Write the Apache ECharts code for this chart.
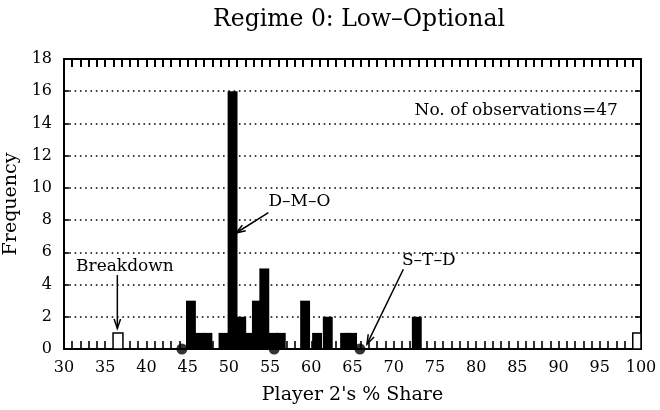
<!DOCTYPE html>
<html><head><meta charset="utf-8">
<script src="https://cdn.jsdelivr.net/npm/echarts@6/dist/echarts.min.js"></script>
<style>html,body{margin:0;padding:0;background:#fff}#c{width:660px;height:410px}</style>
</head><body><div id="c"></div>
<script>
// ---- data ----
// filled histogram bars: centre of each bar (Player 2's % share) and its frequency
const shareCentres = [45.4, 46.4, 47.4, 49.35, 50.45, 51.5, 52.4, 53.4, 54.3, 55.4, 56.3, 59.25, 60.7, 62.0, 64.1, 64.95, 72.8];
const frequencies  = [3,    1,    1,    1,     16,    2,    1,    3,    5,    1,    1,    3,     1,    2,    1,    1,     2];
// hollow (breakdown) bars
const breakdownCentres = [36.55, 99.6];
const breakdownFreqs   = [1, 1];
// black dots on the baseline
const dotShares = [44.3, 55.5, 65.9];
const xTickLabels = [30,35,40,45,50,55,60,65,70,75,80,85,90,95,100];
const yTickLabels = [0,2,4,6,8,10,12,14,16,18];

const BAR_HALF = 0.6;
const serif = '"DejaVu Serif", "Liberation Serif", serif';
const chart = echarts.init(document.getElementById('c'));

function makeBar(fill, stroke, lw) {
  return function (params, api) {
    const c = api.value(0), f = api.value(1);
    const p1 = api.coord([c - BAR_HALF, f]);
    const p2 = api.coord([c + BAR_HALF, 0]);
    const cs = params.coordSys;
    const r = echarts.graphic.clipRectByRect(
      {x: p1[0], y: p1[1], width: p2[0] - p1[0], height: p2[1] - p1[1]},
      {x: cs.x, y: cs.y, width: cs.width, height: cs.height});
    if (!r) return;
    return {type: 'rect', shape: r, style: {fill: fill, stroke: stroke, lineWidth: lw}};
  };
}
const filledData = shareCentres.map((s, i) => [s, frequencies[i]]);
const hollowData = breakdownCentres.map((s, i) => [s, breakdownFreqs[i]]);
const dotData = dotShares.map(s => [s, 0]);
const axisLineStyle = {color: '#000', width: 2};

chart.setOption({
  animation: false,
  backgroundColor: '#fff',
  title: {
    text: 'Regime 0: Low\u2013Optional', left: 354, top: 3, textAlign: 'center',
    textStyle: {fontFamily: serif, fontSize: 23.5, fontWeight: 'normal', color: '#000'}
  },
  grid: {left: 64, right: 19, top: 59, bottom: 61, show: false, containLabel: false, outerBoundsMode: 'none'},
  xAxis: [{
    type: 'value', min: 30, max: 100, interval: 1, position: 'bottom',
    axisLine: {show: true, onZero: false, lineStyle: axisLineStyle},
    axisTick: {show: true, inside: true, length: 8, lineStyle: {color: '#000', width: 1.6}},
    axisLabel: {fontFamily: serif, fontSize: 16, color: '#000', margin: 11, hideOverlap: false,
      formatter: v => xTickLabels.includes(v) ? String(v) : ''},
    splitLine: {show: false},
    name: "Player 2's % Share", nameLocation: 'middle', nameGap: 37,
    nameTextStyle: {fontFamily: serif, fontSize: 19, color: '#000'}
  }, {
    type: 'value', min: 30, max: 100, interval: 1, position: 'top',
    axisLine: {show: true, onZero: false, lineStyle: axisLineStyle},
    axisTick: {show: true, inside: true, length: 8, lineStyle: {color: '#000', width: 2}},
    axisLabel: {show: false}, splitLine: {show: false}
  }],
  yAxis: [{
    type: 'value', min: 0, max: 18, interval: 2, position: 'left',
    axisLine: {show: true, onZero: false, lineStyle: axisLineStyle},
    axisTick: {show: true, inside: true, length: 5, lineStyle: {color: '#000', width: 1.6}},
    axisLabel: {fontFamily: serif, fontSize: 16, color: '#000', margin: 12,
      formatter: v => yTickLabels.includes(v) ? String(v) : ''},
    splitLine: {show: true, lineStyle: {color: '#000', width: 1.6, type: [1.6, 3.7]}},
    name: 'Frequency', nameLocation: 'middle', nameGap: 35, nameRotate: 90,
    nameTextStyle: {fontFamily: serif, fontSize: 19, color: '#000'}
  }, {
    type: 'value', min: 0, max: 18, interval: 2, position: 'right',
    axisLine: {show: true, onZero: false, lineStyle: axisLineStyle},
    axisTick: {show: true, inside: true, length: 6, lineStyle: {color: '#000', width: 1.6}},
    axisLabel: {show: false}, splitLine: {show: false}
  }],
  series: [{
    type: 'custom', name: 'frequency', renderItem: makeBar('#000', null, 0),
    data: filledData, encode: {x: 0, y: 1}, z: 3
  }, {
    type: 'custom', name: 'breakdown', renderItem: makeBar('#fff', '#000', 1.5),
    data: hollowData, encode: {x: 0, y: 1}, z: 3
  }, {
    type: 'scatter', name: 'dots', data: dotData, symbolSize: 11, clip: false,
    itemStyle: {color: '#000'}, z: 5
  }]
});

// ---- annotations (positioned in data coordinates) ----
function px(p) { return chart.convertToPixel({xAxisIndex: 0, yAxisIndex: 0}, p); }
const font = '17px ' + serif;
const g = [];
function addArrow(tailD, tipD) {
  const a = px(tailD), b = px(tipD);
  g.push({type: 'line', shape: {x1: a[0], y1: a[1], x2: b[0], y2: b[1]}, style: {stroke: '#000', lineWidth: 1.5}, z: 10});
  const ang = Math.atan2(a[1] - b[1], a[0] - b[0]);
  const L = 10, h = 0.33;
  const p1 = [b[0] + L * Math.cos(ang + h), b[1] + L * Math.sin(ang + h)];
  const p2 = [b[0] + L * Math.cos(ang - h), b[1] + L * Math.sin(ang - h)];
  g.push({type: 'polyline', shape: {points: [p1, b, p2]}, style: {stroke: '#000', lineWidth: 1.5, fill: null}, z: 10});
}
function addText(txt, d, align) {
  const p = px(d);
  g.push({type: 'text', x: p[0], y: p[1], style: {text: txt, font: font, fill: '#000', textAlign: align || 'left', textVerticalAlign: 'middle'}, z: 10});
}
addText('No. of observations=47', [97.2, 14.77], 'right');
addText('D\u2013M\u2013O', [54.8, 9.12]);
addArrow([54.8, 8.46], [50.87, 7.2]);
addText('S\u2013T\u2013D', [71.0, 5.46]);
addArrow([71.17, 4.95], [66.76, 0.3]);
addText('Breakdown', [31.46, 5.09]);
addArrow([36.47, 4.59], [36.47, 1.28]);
chart.setOption({graphic: g});
</script>
</body></html>
